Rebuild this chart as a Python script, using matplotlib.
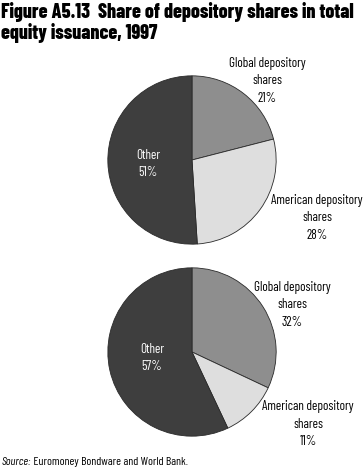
import matplotlib.pyplot as plt

W, H = 363, 475

segments = ["Global depository\nshares", "American depository\nshares", "Other"]
shares_top = [21, 28, 51]
shares_bottom = [32, 11, 57]
colors = ["#8e8e8e", "#dedede", "#3e3e3e"]

FONT = ["Barlow Condensed", "DejaVu Sans"]

fig = plt.figure(figsize=(W / 100, H / 100), dpi=100)
fig.patch.set_facecolor("white")


def px(x, y):
    # pixel coords (top-left origin) -> figure fraction
    return x / W, 1 - y / H


def draw_pie(cx, cy, r, values, label_pos):
    ax = fig.add_axes([(cx - r) / W, (H - cy - r) / H, 2 * r / W, 2 * r / H])
    ax.pie(values, colors=colors, startangle=90, counterclock=False,
           wedgeprops=dict(edgecolor="#2a2a2a", linewidth=0.6))
    ax.set_xlim(-1.01, 1.01)
    ax.set_ylim(-1.01, 1.01)
    ax.set_aspect("equal")
    ax.axis("off")
    for i, (lx, ly) in enumerate(label_pos):
        col = "white" if i == 2 else "black"
        x, y = px(lx, ly)
        fig.text(x, y, f"{segments[i]}\n{values[i]}%", ha="center", va="center",
                 fontsize=9.5, family=FONT, stretch="condensed", color=col, linespacing=1.45)


draw_pie(192, 160, 85, shares_top, [(267, 81), (317, 218), (148, 164)])
draw_pie(192, 352, 85, shares_bottom, [(292, 305), (308, 424), (152, 358)])

fig.text(1 / W, 1 - 2 / H, "Figure A5.13  Share of depository shares in total\nequity issuance, 1997",
         ha="left", va="top", fontsize=14.3, fontweight=800, family=FONT,
         stretch="condensed", linespacing=1.05)

# source line: italic "Source:" followed by plain text
src = fig.text(2 / W, 1 - 462 / H, "Source:", ha="left", va="center",
               fontsize=8.5, family=FONT, style="italic")
fig.add_artist(plt.Annotation(" Euromoney Bondware and World Bank.", xy=(1, 0),
                              xycoords=src, ha="left", va="bottom",
                              fontsize=8.5, family=FONT))

fig.savefig("out.png", dpi=100)
